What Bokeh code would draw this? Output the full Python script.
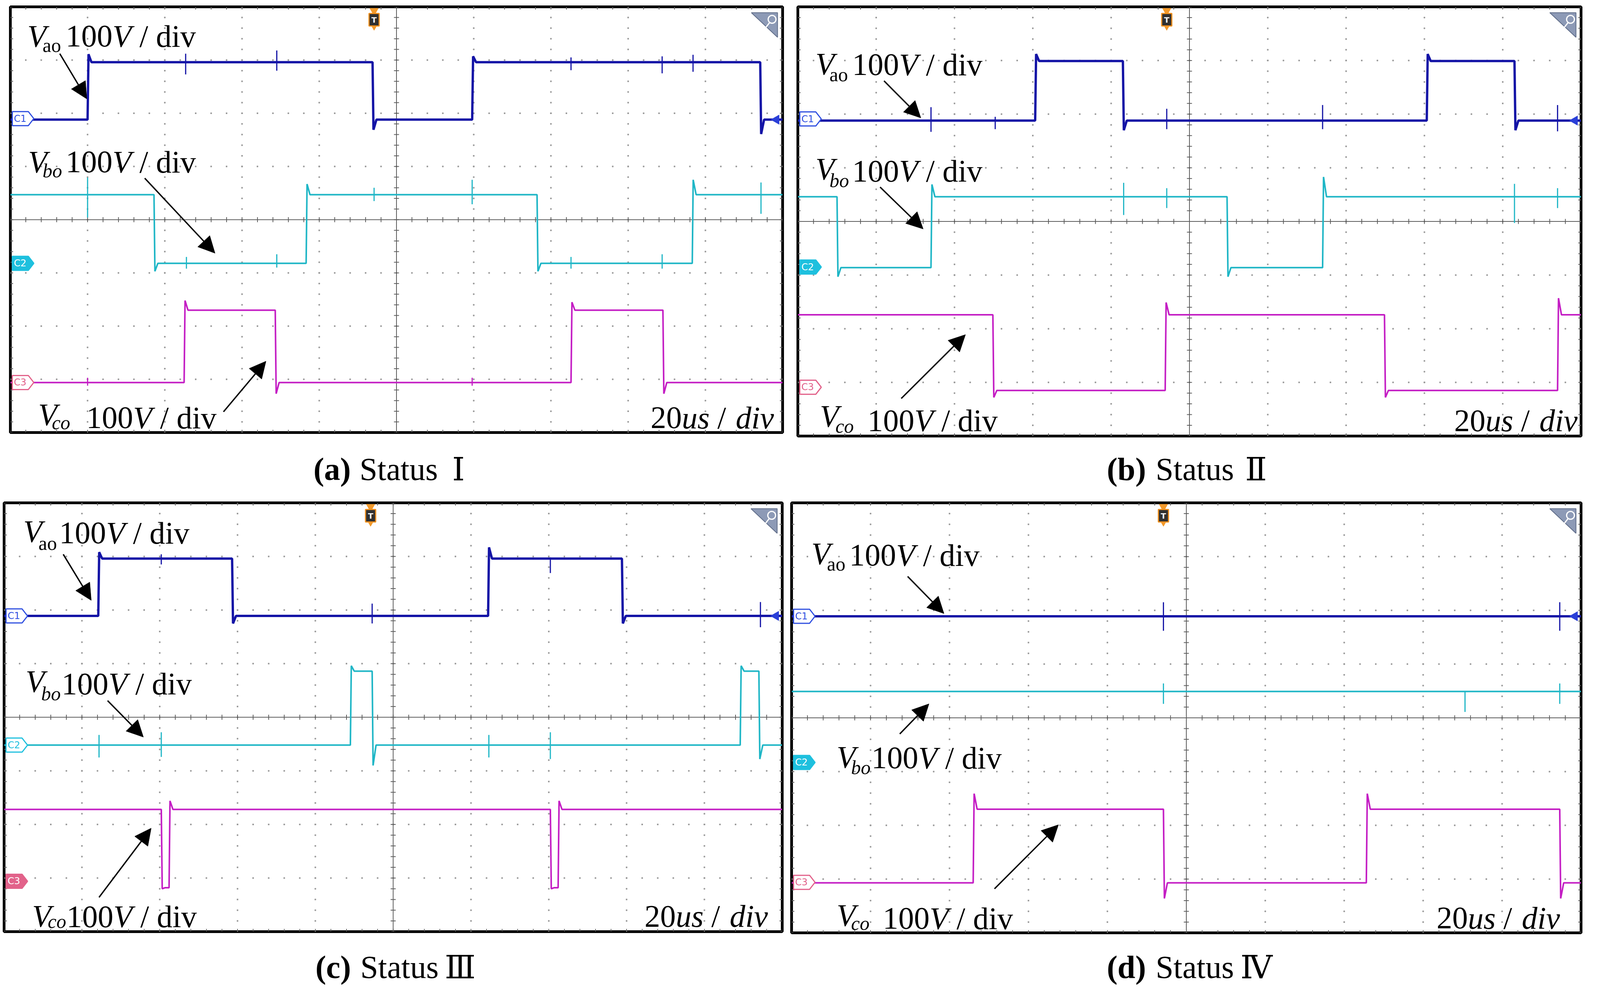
import numpy as np
from bokeh.plotting import figure
from bokeh.models import Range1d, ColumnDataSource, Arrow, NormalHead
from bokeh.layouts import column, row
from bokeh.core.properties import value, field
from bokeh.embed import file_html
from bokeh.resources import INLINE

# ---------------- data: x in divisions (20 us/div), y in divisions (100 V/div) ----------
# (a) Status I
a_vao_t = [1.00, 4.69, 5.98, 9.71]
a_vao_lv = [1.88, 2.96, 1.88, 2.96, 1.88]
a_vao_pk = [3.11, 1.69, 3.07, 1.61]
a_vao_sp_t = [2.27, 3.45, 7.26, 8.44, 8.84]
a_vao_sp_hi = [3.12, 3.18, 3.05, 3.07, 3.10]
a_vao_sp_lo = [2.73, 2.80, 2.81, 2.75, 2.78]

a_vbo_t = [1.86, 3.83, 6.82, 8.83]
a_vbo_lv = [0.47, -0.82, 0.47, -0.82, 0.47]
a_vbo_pk = [-0.97, 0.67, -0.97, 0.75]
a_vbo_sp_t = [1.00, 2.28, 3.45, 4.71, 5.98, 7.26, 8.44, 9.72]
a_vbo_sp_hi = [0.79, -0.70, -0.65, 0.60, 0.75, -0.70, -0.65, 0.70]
a_vbo_sp_lo = [0.04, -0.92, -0.90, 0.35, 0.29, -0.92, -0.92, 0.11]

a_vco_t = [2.25, 3.43, 7.26, 8.45]
a_vco_lv = [-3.06, -1.70, -3.06, -1.70, -3.06]
a_vco_pk = [-1.52, -3.27, -1.55, -3.27]
a_vco_sp_t = [1.00, 5.98]
a_vco_sp_hi = [-2.97, -2.97]
a_vco_sp_lo = [-3.12, -3.12]

# (b) Status II
b_vao_t = [3.03, 4.15, 8.03, 9.15]
b_vao_lv = [1.88, 2.99, 1.88, 2.99, 1.88]
b_vao_pk = [3.12, 1.70, 3.12, 1.70]
b_vao_sp_t = [1.70, 2.52, 4.71, 6.70, 9.70]
b_vao_sp_hi = [2.13, 1.95, 2.10, 2.17, 2.17]
b_vao_sp_lo = [1.67, 1.72, 1.72, 1.72, 1.68]

b_vbo_t = [0.50, 1.70, 5.48, 6.70]
b_vbo_lv = [0.46, -0.86, 0.46, -0.86, 0.46]
b_vbo_pk = [-1.03, 0.69, -1.03, 0.83]
b_vbo_sp_t = [4.16, 4.71, 9.15, 9.70]
b_vbo_sp_hi = [0.72, 0.62, 0.70, 0.62]
b_vbo_sp_lo = [0.12, 0.25, -0.03, 0.25]

b_vco_t = [2.49, 4.69, 7.49, 9.70]
b_vco_lv = [-1.74, -3.15, -1.74, -3.15, -1.74]
b_vco_pk = [-3.28, -1.51, -3.28, -1.43]
b_vco_sp_t = []
b_vco_sp_hi = []
b_vco_sp_lo = []

# (c) Status III
c_vao_t = [1.21, 2.93, 6.22, 7.94]
c_vao_lv = [1.89, 2.96, 1.89, 2.96, 1.89]
c_vao_pk = [3.08, 1.75, 3.17, 1.75]
c_vao_sp_t = [2.02, 4.73, 7.02, 9.72]
c_vao_sp_hi = [3.04, 2.12, 2.98, 2.15]
c_vao_sp_lo = [2.85, 1.75, 2.69, 1.68]

c_vbo_t = [4.45, 4.73, 9.46, 9.70]
c_vbo_lv = [-0.52, 0.86, -0.52, 0.86, -0.52]
c_vbo_pk = [0.96, -0.90, 0.96, -0.78]
c_vbo_sp_t = [1.22, 2.02, 6.23, 7.02]
c_vbo_sp_hi = [-0.33, -0.28, -0.33, -0.28]
c_vbo_sp_lo = [-0.75, -0.74, -0.75, -0.78]

c_vco_t = [2.02, 2.12, 7.02, 7.12]
c_vco_lv = [-1.72, -3.18, -1.72, -3.18, -1.72]
c_vco_pk = [-3.20, -1.56, -3.20, -1.56]
c_vco_sp_t = []
c_vco_sp_hi = []
c_vco_sp_lo = []

# (d) Status IV
d_vao_t = []
d_vao_lv = [1.89]
d_vao_pk = []
d_vao_sp_t = [4.71, 9.73]
d_vao_sp_hi = [2.15, 2.15]
d_vao_sp_lo = [1.62, 1.62]

d_vbo_t = []
d_vbo_lv = [0.49]
d_vbo_pk = []
d_vbo_sp_t = [4.71, 8.53, 9.73]
d_vbo_sp_hi = [0.64, 0.49, 0.64]
d_vbo_sp_lo = [0.26, 0.11, 0.26]

d_vco_t = [2.30, 4.71, 7.28, 9.73]
d_vco_lv = [-3.07, -1.70, -3.07, -1.70, -3.07]
d_vco_pk = [-1.41, -3.36, -1.41, -3.36]
d_vco_sp_t = []
d_vco_sp_hi = []
d_vco_sp_lo = []

# channel reference markers (level in div) per panel
a_flags = [1.90, -0.82, -3.06]
b_flags = [1.91, -0.85, -3.09]
c_flags = [1.89, -0.52, -3.06]
d_flags = [1.89, -0.83, -3.06]

captions = [("(a)", "Status", "Ⅰ"), ("(b)", "Status", "Ⅱ"),
            ("(c)", "Status", "Ⅲ"), ("(d)", "Status", "Ⅳ")]

TRIG_T = 4.71

# ---------------- styling --------------------------------------------------------------
BLUE, CYAN, MAG = "#1414a6", "#1fb6c6", "#c41ec4"
FLAG_COL = ["#2f4fe0", "#1ec0de", "#e2628a"]
LWS = [6, 4, 4]
SERIF = "Liberation Serif"
F_MAIN, F_SUB = 80, 50
BL_FIX = 0.215          # compensates the renderer's alphabetic-baseline offset (fraction of em)
GRID_COL = "#5c5c5c"


def step_trace(t, lv, pk, rise=0.012, settle=0.05):
    xs, ys = [0.0], [lv[0]]
    for i, tt in enumerate(t):
        xs += [tt, tt + rise, tt + settle]
        ys += [lv[i], pk[i], lv[i + 1]]
    xs.append(10.0)
    ys.append(lv[-1])
    return xs, ys


def build_panel(spec, chans, flags, flag_filled, labels, arrows, tpos):
    fw, fh = spec["fw"], spec["fh"]
    dw, dh = fw / 10.0, fh / 8.0
    p = figure(frame_width=fw, frame_height=fh,
               min_border_left=spec["bl"], min_border_right=spec["br"],
               min_border_top=spec["bt"], min_border_bottom=spec["bb"],
               x_range=Range1d(0, 10), y_range=Range1d(-4, 4),
               x_axis_location=None, y_axis_location=None,
               toolbar_location=None, output_backend="svg", title=None)
    p.xgrid.visible = False
    p.ygrid.visible = False
    p.outline_line_color = "black"
    p.outline_line_width = 7
    p.background_fill_color = "white"
    p.border_fill_color = "white"

    # dotted graticule
    gx, gy = [], []
    for xv in [1, 2, 3, 4, 6, 7, 8, 9]:
        for yv in np.arange(-4, 4.001, 0.2):
            gx.append(xv); gy.append(yv)
    for yv in [-3, -2, -1, 1, 2, 3]:
        for xv in np.arange(0, 10.001, 0.2):
            gx.append(xv); gy.append(yv)
    p.scatter(gx, gy, marker="square", size=3, color="#9a9a9a")
    # center cross with ticks
    p.segment(x0=[5, 0], y0=[-4, 0], x1=[5, 10], y1=[4, 0], line_color=GRID_COL, line_width=2)
    tk = np.arange(0, 10.001, 0.2)
    tv = np.arange(-4, 4.001, 0.2)
    p.scatter(tk, np.zeros_like(tk), marker="dash", angle=np.pi / 2, size=13,
              line_color=GRID_COL, line_width=2)
    p.scatter(np.full_like(tv, 5.0), tv, marker="dash", size=13, line_color=GRID_COL, line_width=2)
    # edge ticks
    p.scatter(np.r_[tk, tk], np.r_[np.full_like(tk, 4.0), np.full_like(tk, -4.0)],
              marker="dash", angle=np.pi / 2, size=14, line_color=GRID_COL, line_width=2)
    p.scatter(np.r_[np.zeros_like(tv), np.full_like(tv, 10.0)], np.r_[tv, tv],
              marker="dash", size=14, line_color=GRID_COL, line_width=2)

    # traces
    for (t, lv, pk, st, shi, slo), col, lw in zip(chans, [BLUE, CYAN, MAG], LWS):
        xs, ys = step_trace(t, lv, pk)
        p.line(xs, ys, line_color=col, line_width=lw)
        if len(st):
            p.segment(x0=st, y0=slo, x1=st, y1=shi, line_color=col, line_width=3)
    # right edge ch1 arrow
    p.scatter([10 - 16 / dw], [chans[0][1][-1]], marker="triangle", angle=np.pi / 2,
              size=24, color="#2a3fd8")

    # channel flags
    px = np.array([5, 46, 60, 46, 5])
    py = np.array([-18, -18, 0, 18, 18])
    for lvl, name, col, filled in zip(flags, ["C1", "C2", "C3"], FLAG_COL, flag_filled):
        p.patch(px / dw, lvl - py / dh, fill_color=col if filled else "white",
                line_color=col, line_width=3)
        p.text([25 / dw], [lvl], text=[name], text_color="white" if filled else col,
               text_font=value("DejaVu Sans"), text_font_size="24px",
               text_align="center", text_baseline="middle")

    # trigger marker
    p.scatter([TRIG_T], [4 - 10 / dh], marker="inverted_triangle", size=22,
              fill_color="#f39a2b", line_color="#f39a2b")
    p.rect([TRIG_T], [4 - 33 / dh], width=26, height=32, width_units="screen",
           height_units="screen", fill_color="#303030", line_color="#f0901e", line_width=3)
    p.text([TRIG_T], [4 - 33 / dh], text=["T"], text_color="#f3f3f3",
           text_font=value("DejaVu Sans"), text_font_style="bold", text_font_size="20px",
           text_align="center", text_baseline="middle")
    p.scatter([TRIG_T], [4 - 54 / dh], marker="inverted_triangle", size=11,
              fill_color="#f39a2b", line_color="#f39a2b")

    # zoom icon (top-right)
    mx = np.array([-80, -13, -13]) / dw + 10
    my = 4 - np.array([15, 15, 78]) / dh
    p.patch(mx, my, fill_color="#8d9ab6", line_color="#5f6c88", line_width=2)
    p.scatter([10 - 27 / dw], [4 - 32 / dh], marker="circle", size=20, fill_color=None,
              line_color="white", line_width=3)
    p.segment(x0=[10 - 33 / dw], y0=[4 - 40 / dh], x1=[10 - 44 / dw], y1=[4 - 54 / dh],
              line_color="white", line_width=3)

    # labels
    lx, ly, lt, ls, lz, lxo, lyo = [], [], [], [], [], [], []

    def put(x, y, text, style, size, xo, yo):
        lx.append(x); ly.append(y); lt.append(text); ls.append(style)
        lz.append(f"{size}px"); lxo.append(xo); lyo.append(yo - BL_FIX * size)

    for sub, sub_it, x, y, sdx, sdy, mdx, mdy in labels:
        put(x, y, "V", "italic", F_MAIN, 0, 0)
        put(x, y, sub, "italic" if sub_it else "normal", F_SUB, sdx, sdy)
        put(x, y, "100", "normal", F_MAIN, mdx, mdy)
        put(x, y, "V", "italic", F_MAIN, mdx + 120, mdy)
        put(x, y, "/ div", "normal", F_MAIN, mdx + 189, mdy)
    tx, ty = tpos
    put(tx, ty, "20", "normal", F_MAIN, 0, 0)
    put(tx, ty, "us", "italic", F_MAIN, 80, 0)
    put(tx, ty, "/", "normal", F_MAIN, 171, 0)
    put(tx, ty, "div", "italic", F_MAIN, 218, 0)
    src = ColumnDataSource(dict(x=lx, y=ly, text=lt, style=ls, size=lz, xo=lxo, yo=lyo))
    p.text(x="x", y="y", text="text", source=src, text_font=value(SERIF),
           text_font_style=field("style"), text_font_size=field("size"),
           x_offset=field("xo"), y_offset=field("yo"), text_color="black",
           text_align="left", text_baseline="alphabetic")

    for (x0, y0), (x1, y1) in arrows:
        p.add_layout(Arrow(end=NormalHead(size=42, fill_color="black", line_color="black"),
                           x_start=x0, y_start=y0, x_end=x1, y_end=y1,
                           line_color="black", line_width=3.5))
    return p


def chans_of(prefix):
    g = globals()
    return [(g[f"{prefix}_{c}_t"], g[f"{prefix}_{c}_lv"], g[f"{prefix}_{c}_pk"],
             g[f"{prefix}_{c}_sp_t"], g[f"{prefix}_{c}_sp_hi"], g[f"{prefix}_{c}_sp_lo"])
            for c in ["vao", "vbo", "vco"]]


pa = build_panel(dict(fw=1977, fh=1090, bl=26, br=10, bt=17, bb=13), chans_of("a"),
                 a_flags, [False, True, False],
                 [("ao", False, 0.22, 3.32, 39, 17, 98, 0),
                  ("bo", True, 0.23, 0.96, 37, 16, 96, 0),
                  ("co", True, 0.36, -3.79, 35, 14, 123, 8)],
                 [((0.64, 3.12), (0.99, 2.27)), ((1.74, 0.78), (2.65, -0.63)),
                  ((2.76, -3.61), (3.31, -2.66))], (8.29, -3.85))
pb = build_panel(dict(fw=2005, fh=1099, bl=29, br=20, bt=11, bb=10), chans_of("b"),
                 b_flags, [False, True, False],
                 [("ao", False, 0.225, 2.81, 36, 21, 94, 2),
                  ("bo", True, 0.225, 0.85, 36, 23, 94, 5),
                  ("co", True, 0.28, -3.76, 40, 18, 122, 11)],
                 [((1.10, 2.62), (1.57, 1.93)), ((1.05, 0.64), (1.60, -0.14)),
                  ((1.32, -3.30), (2.14, -2.11))], (8.38, -3.84))
pc = build_panel(dict(fw=1992, fh=1098, bl=10, br=10, bt=7, bb=10), chans_of("c"),
                 c_flags, [False, False, True],
                 [("ao", False, 0.246, 3.34, 39, 24, 92, 4),
                  ("bo", True, 0.276, 0.54, 40, 24, 92, 6),
                  ("co", True, 0.36, -3.84, 40, 6, 88, 1)],
                 [((0.76, 3.04), (1.12, 2.18)), ((1.33, 0.31), (1.79, -0.37)),
                  ((1.22, -3.36), (1.89, -2.07))], (8.23, -3.84))
pd_ = build_panel(dict(fw=2021, fh=1101, bl=14, br=20, bt=7, bb=7), chans_of("d"),
                  d_flags, [False, True, False],
                  [("ao", False, 0.25, 2.93, 40, 20, 97, 4),
                   ("bo", True, 0.57, -0.856, 37, 20, 89, 2),
                   ("co", True, 0.57, -3.80, 37, 14, 118, 8)],
                  [((1.47, 2.63), (1.93, 1.94)), ((1.37, -0.30), (1.74, 0.26)),
                   ((2.57, -3.18), (3.38, -1.99))], (8.17, -3.85))

TOTAL_W = 4067
F_CAP = 82


def caption_fig(y0, h, items, baseline):
    c = figure(frame_width=TOTAL_W, frame_height=h, min_border=0,
               x_range=Range1d(8, 8 + TOTAL_W), y_range=Range1d(y0 + h, y0),
               x_axis_location=None, y_axis_location=None,
               toolbar_location=None, output_backend="svg", title=None)
    c.xgrid.visible = False
    c.ygrid.visible = False
    c.outline_line_color = None
    c.background_fill_color = "white"
    c.border_fill_color = "white"
    xs, ts, ss, fs = [], [], [], []
    for (lab, word, num), (x1, x2, x3) in items:
        xs += [x1, x2, x3]
        ts += [lab, word, num]
        ss += ["bold", "normal", "normal"]
        fs += [SERIF, SERIF, "DejaVu Serif"]
    yb = baseline - BL_FIX * F_CAP
    src = ColumnDataSource(dict(x=xs, y=[yb] * len(xs), text=ts, style=ss, font=fs))
    c.text(x="x", y="y", text="text", source=src, text_font=field("font"),
           text_font_style=field("style"), text_font_size=f"{F_CAP}px", text_color="black",
           text_align="left", text_baseline="alphabetic")
    return c


cap1 = caption_fig(1128, 160, [(captions[0], (810, 928, 1165)), (captions[1], (2841, 2966, 3195))], 1227)
cap2 = caption_fig(2403, 132, [(captions[2], (815, 930, 1146)), (captions[3], (2841, 2966, 3183))], 2502)

layout = column(row(pa, pb), cap1, row(pc, pd_), cap2)
open("out.html", "w").write(file_html(layout, INLINE))
